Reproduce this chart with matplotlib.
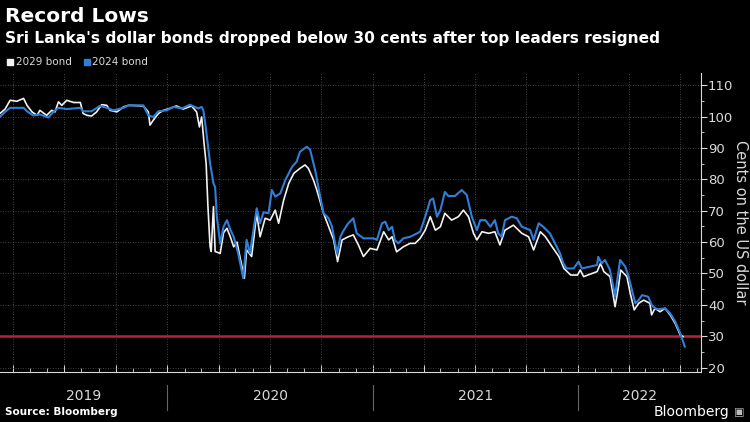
import matplotlib
matplotlib.use('Agg')
import matplotlib.pyplot as plt
import matplotlib.dates as mdates
from matplotlib.lines import Line2D
import pandas as pd

# --- 1. DADOS ---

datas_2029 = [
    '2019-03-09', '2019-03-18', '2019-03-27', '2019-04-08', '2019-04-20', '2019-04-26',
    '2019-05-05', '2019-05-14', '2019-05-19', '2019-05-31', '2019-06-09', '2019-06-15',
    '2019-06-21', '2019-06-27', '2019-07-06', '2019-07-18', '2019-07-30', '2019-08-04',
    '2019-08-11', '2019-08-19', '2019-08-28', '2019-09-06', '2019-09-15', '2019-09-21',
    '2019-10-03', '2019-10-15', '2019-10-24', '2019-11-19', '2019-11-28', '2019-12-01',
    '2019-12-07', '2019-12-16', '2019-12-25', '2020-01-05', '2020-01-17', '2020-01-29',
    '2020-02-13', '2020-02-22', '2020-02-27', '2020-03-02', '2020-03-06', '2020-03-10',
    '2020-03-13', '2020-03-17', '2020-03-19', '2020-03-23', '2020-03-26', '2020-04-04',
    '2020-04-10', '2020-04-16', '2020-04-22', '2020-04-28', '2020-05-04', '2020-05-09',
    '2020-05-17', '2020-05-21', '2020-05-30', '2020-06-08', '2020-06-14', '2020-06-23',
    '2020-07-02', '2020-07-11', '2020-07-17', '2020-07-26', '2020-08-04', '2020-08-13',
    '2020-08-24', '2020-09-02', '2020-09-08', '2020-09-17', '2020-09-23', '2020-10-05',
    '2020-10-14', '2020-10-23', '2020-10-30', '2020-11-07', '2020-11-18', '2020-11-27',
    '2020-12-06', '2020-12-15', '2020-12-27', '2021-01-08', '2021-01-20', '2021-01-29',
    '2021-02-04', '2021-02-12', '2021-02-24', '2021-03-08', '2021-03-17', '2021-03-26',
    '2021-04-04', '2021-04-13', '2021-04-22', '2021-05-01', '2021-05-09', '2021-05-21',
    '2021-06-02', '2021-06-11', '2021-06-20', '2021-06-29', '2021-07-05', '2021-07-14',
    '2021-07-26', '2021-08-06', '2021-08-15', '2021-08-24', '2021-09-08', '2021-09-23',
    '2021-10-05', '2021-10-14', '2021-10-26', '2021-11-04', '2021-11-16', '2021-11-28',
    '2021-12-07', '2021-12-19', '2021-12-31', '2022-01-05', '2022-01-11', '2022-01-26',
    '2022-02-04', '2022-02-10', '2022-02-16', '2022-02-27', '2022-03-08', '2022-03-14',
    '2022-03-18', '2022-03-29', '2022-04-04', '2022-04-11', '2022-04-19', '2022-04-28',
    '2022-05-09', '2022-05-12', '2022-05-18', '2022-05-27', '2022-06-05', '2022-06-14',
    '2022-06-23', '2022-07-02', '2022-07-07',
]
precos_2029 = [
    101.0, 102.4, 105.2, 104.9, 105.8, 103.6,
    101.5, 100.4, 102.0, 100.4, 102.0, 101.5,
    104.7, 103.6, 105.2, 104.5, 104.5, 101.0,
    100.4, 100.2, 101.5, 103.8, 103.6, 102.0,
    101.5, 103.1, 103.6, 103.4, 101.5, 97.3,
    98.9, 101.0, 102.0, 102.6, 103.4, 102.4,
    103.4, 101.5, 96.7, 99.9, 92.0, 85.0,
    72.0, 58.5, 57.0, 71.3, 57.0, 56.4,
    63.0, 64.4, 61.7, 58.5, 60.0, 55.4,
    48.5, 57.5, 55.4, 69.2, 61.7, 67.6,
    67.0, 70.2, 66.0, 73.4, 78.7, 81.9,
    83.5, 84.6, 83.5, 79.8, 76.6, 69.2,
    64.9, 60.7, 53.8, 60.7, 61.7, 62.3,
    59.1, 55.4, 58.0, 57.5, 63.3, 60.7,
    61.7, 56.9, 58.5, 59.6, 59.6, 61.2,
    63.8, 68.1, 63.8, 64.9, 69.2, 67.0,
    68.1, 70.2, 68.1, 62.8, 60.7, 63.3,
    62.8, 63.3, 59.1, 63.8, 65.4, 62.8,
    61.7, 57.5, 63.3, 61.7, 58.5, 55.4,
    51.6, 49.5, 49.5, 51.1, 49.0, 50.0,
    50.6, 53.2, 50.6, 49.0, 39.4, 45.8,
    51.1, 49.0, 43.7, 38.4, 40.5, 41.5,
    40.5, 36.8, 38.9, 37.8, 38.9, 36.8,
    34.1, 30.4, 29.9,
]

datas_2024 = [
    '2019-03-09', '2019-03-18', '2019-03-27', '2019-04-20', '2019-04-26', '2019-05-07',
    '2019-05-19', '2019-06-03', '2019-06-12', '2019-06-21', '2019-07-06', '2019-07-30',
    '2019-08-04', '2019-08-19', '2019-09-03', '2019-09-15', '2019-09-27', '2019-10-15',
    '2019-10-24', '2019-11-19', '2019-11-28', '2019-12-07', '2019-12-16', '2019-12-31',
    '2020-01-12', '2020-01-27', '2020-02-10', '2020-02-25', '2020-03-02', '2020-03-05',
    '2020-03-09', '2020-03-17', '2020-03-23', '2020-03-26', '2020-03-29', '2020-04-04',
    '2020-04-10', '2020-04-16', '2020-04-22', '2020-04-28', '2020-05-06', '2020-05-15',
    '2020-05-21', '2020-05-27', '2020-06-08', '2020-06-14', '2020-06-20', '2020-06-29',
    '2020-07-05', '2020-07-11', '2020-07-20', '2020-07-29', '2020-08-10', '2020-08-18',
    '2020-08-24', '2020-09-05', '2020-09-11', '2020-09-20', '2020-09-29', '2020-10-05',
    '2020-10-14', '2020-10-20', '2020-10-29', '2020-11-04', '2020-11-09', '2020-11-18',
    '2020-11-27', '2020-12-03', '2020-12-15', '2021-01-02', '2021-01-08', '2021-01-17',
    '2021-01-23', '2021-01-29', '2021-02-04', '2021-02-09', '2021-02-15', '2021-02-24',
    '2021-03-08', '2021-03-14', '2021-03-26', '2021-04-04', '2021-04-13', '2021-04-18',
    '2021-04-25', '2021-05-01', '2021-05-09', '2021-05-15', '2021-05-27', '2021-06-08',
    '2021-06-17', '2021-06-26', '2021-07-05', '2021-07-11', '2021-07-20', '2021-07-29',
    '2021-08-06', '2021-08-12', '2021-08-18', '2021-08-24', '2021-09-05', '2021-09-14',
    '2021-09-23', '2021-10-08', '2021-10-14', '2021-10-23', '2021-10-31', '2021-11-12',
    '2021-11-21', '2021-11-30', '2021-12-06', '2021-12-12', '2021-12-24', '2022-01-02',
    '2022-01-08', '2022-01-23', '2022-02-04', '2022-02-06', '2022-02-12', '2022-02-18',
    '2022-02-27', '2022-03-08', '2022-03-11', '2022-03-17', '2022-03-26', '2022-04-01',
    '2022-04-07', '2022-04-13', '2022-04-19', '2022-04-25', '2022-05-06', '2022-05-12',
    '2022-05-18', '2022-05-24', '2022-06-05', '2022-06-14', '2022-06-23', '2022-07-02',
    '2022-07-10',
]
precos_2024 = [
    99.9, 101.5, 102.8, 102.8, 101.7, 100.4,
    100.7, 99.7, 101.5, 102.8, 102.4, 102.8,
    101.7, 101.7, 103.4, 102.8, 102.0, 102.8,
    103.6, 103.6, 100.4, 99.9, 101.7, 102.0,
    103.1, 102.6, 103.8, 102.6, 103.1, 102.0,
    97.0, 85.1, 78.7, 77.5, 68.1, 59.6,
    64.9, 67.0, 64.0, 61.7, 56.4, 48.5,
    60.7, 56.4, 70.8, 66.0, 69.5, 69.2,
    76.6, 74.5, 75.5, 79.8, 84.0, 85.6,
    88.8, 90.4, 89.5, 83.0, 74.5, 69.2,
    67.6, 65.0, 56.4, 61.7, 63.5, 66.0,
    67.6, 62.8, 61.2, 61.2, 60.7, 66.0,
    66.5, 63.8, 64.9, 60.7, 59.6, 61.2,
    61.7, 62.2, 63.3, 68.1, 73.4, 73.9,
    68.1, 70.2, 76.0, 74.7, 74.7, 76.6,
    75.0, 68.1, 63.8, 67.0, 67.0, 64.9,
    67.0, 62.8, 61.7, 67.0, 68.1, 67.6,
    64.9, 63.8, 60.7, 66.0, 64.9, 62.8,
    59.6, 56.4, 53.2, 51.6, 51.6, 53.8,
    51.6, 52.2, 52.7, 55.3, 53.2, 54.3,
    51.1, 42.6, 46.9, 54.3, 52.2, 49.0,
    44.7, 40.5, 41.5, 43.1, 42.6, 40.0,
    38.9, 38.6, 38.9, 37.3, 34.7, 30.9,
    26.7,
]

anos = ['2019', '2020', '2021', '2022']
nivel_recorde = 30
inicio = '2019-03-09'
fim = '2022-08-08'

# --- 2. ESTILO ---

fundo = '#000000'
cinza_texto = '#d9d9d9'
cor_2029 = '#f2f2f2'
cor_2024 = '#2f7fd8'
cor_linha_30 = '#bb2238'
cor_grade = '#5a5a5a'

fig = plt.figure(figsize=(7.5, 4.22), dpi=100, facecolor=fundo)
ax = fig.add_axes([0.0, 0.1185, 0.9347, 0.7085], facecolor=fundo)

d29 = pd.to_datetime(datas_2029)
d24 = pd.to_datetime(datas_2024)

# --- 3. LINHAS ---

ax.axhline(nivel_recorde, color=cor_linha_30, lw=1.8, zorder=2)
ax.plot(d29, precos_2029, color=cor_2029, lw=1.2, zorder=3)
ax.plot(d24, precos_2024, color=cor_2024, lw=1.5, zorder=4)

ax.set_xlim(pd.Timestamp(inicio), pd.Timestamp(fim))
ax.set_ylim(18.6, 113.9)

# eixo y à direita
ax.yaxis.tick_right()
ax.set_yticks(range(20, 111, 10))
ax.set_yticks(range(25, 111, 10), minor=True)
ax.tick_params(axis='y', which='major', length=4, width=0.8, color=cinza_texto,
               labelcolor=cinza_texto, labelsize=9.5, pad=1)
ax.tick_params(axis='y', which='minor', length=2, width=0.6, color=cinza_texto)

# eixo x: grade trimestral, marcas mensais, sem rótulos
ax.xaxis.set_major_locator(mdates.MonthLocator(bymonth=[1, 4, 7, 10]))
ax.xaxis.set_minor_locator(mdates.MonthLocator())
ax.tick_params(axis='x', which='major', direction='in', length=5, width=0.7,
               color=cinza_texto, labelbottom=False)
ax.tick_params(axis='x', which='minor', direction='in', length=3, width=0.6,
               color=cinza_texto)

ax.grid(True, which='major', color=cor_grade, lw=0.6, linestyle=(0, (1, 2)))

for lado in ['top', 'left']:
    ax.spines[lado].set_visible(False)
for lado in ['right', 'bottom']:
    ax.spines[lado].set_color(cinza_texto)
    ax.spines[lado].set_linewidth(0.8)

# --- 4. ANOS NO RODAPÉ ---

trans = ax.get_xaxis_transform()
limites = [pd.Timestamp(inicio)] + [pd.Timestamp(a + '-01-01') for a in anos[1:]] + [pd.Timestamp(fim)]
for i, ano in enumerate(anos):
    meio = limites[i] + (limites[i + 1] - limites[i]) / 2
    ax.text(meio, -0.08, ano, transform=trans, ha='center', va='center',
            color=cinza_texto, fontsize=10, clip_on=False)
    if i > 0:
        ax.plot([limites[i], limites[i]], [-0.043, -0.127], transform=trans,
                color='#666666', lw=0.8, clip_on=False)

# --- 5. TEXTOS ---

fig.text(0.007, 0.962, 'Record Lows', color='white', fontsize=14.5,
         fontweight='bold', ha='left', va='center')
fig.text(0.007, 0.909, "Sri Lanka's dollar bonds dropped below 30 cents after top leaders resigned",
         color='white', fontsize=11.1, fontweight='bold', ha='left', va='center')

handles = [
    Line2D([], [], marker='s', color=cor_2029, lw=0, markersize=5),
    Line2D([], [], marker='s', color=cor_2024, lw=0, markersize=5),
]
fig.legend(handles, ['2029 bond', '2024 bond'], loc='center left',
           bbox_to_anchor=(0.0, 0.852), ncol=2, frameon=False, fontsize=7.5,
           labelcolor=cinza_texto, handlelength=0.6, handletextpad=0.2,
           columnspacing=1.2, borderpad=0.2)

fig.text(0.987, 0.474, 'Cents on the US dollar', color=cinza_texto, fontsize=10.5,
         rotation=-90, ha='center', va='center')

fig.text(0.007, 0.024, 'Source: Bloomberg', color='white', fontsize=7.5,
         fontweight='bold', ha='left', va='center')
fig.text(0.972, 0.024, 'Bloomberg', color='white', fontsize=10,
         ha='right', va='center')
fig.text(0.993, 0.024, '\u25a3', color='#bbbbbb', fontsize=8, ha='right', va='center')

plt.savefig('out.png', dpi=100, facecolor=fundo)
plt.close()
